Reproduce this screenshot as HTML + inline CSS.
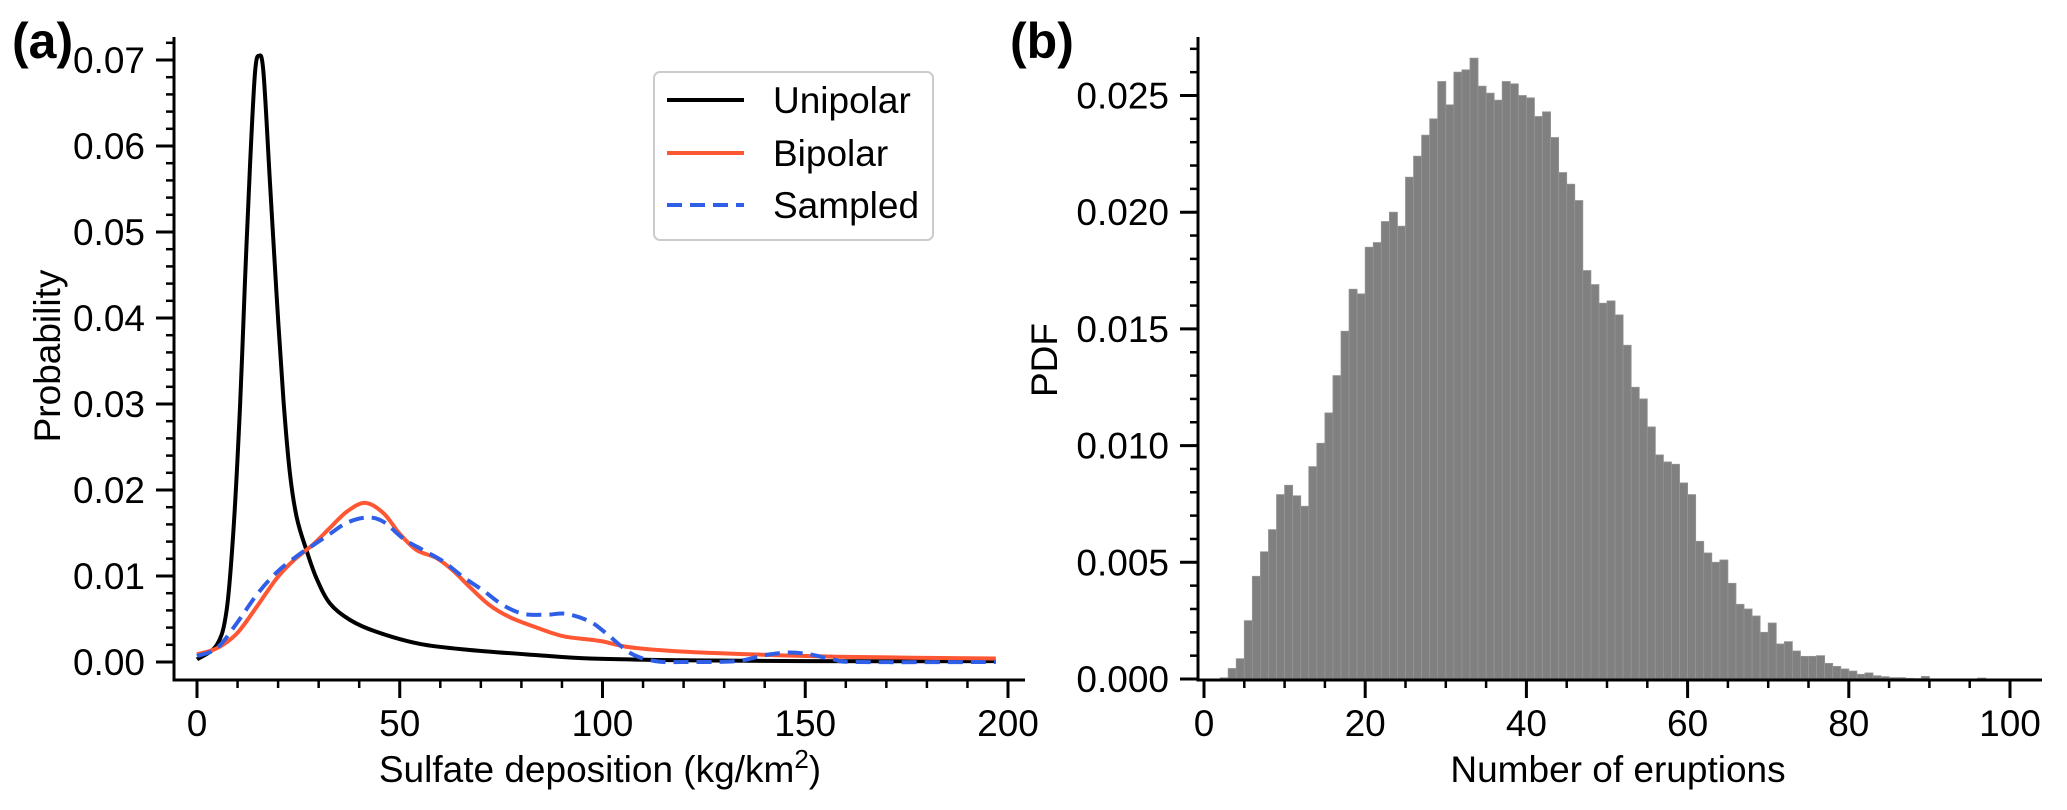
<!DOCTYPE html>
<html><head><meta charset="utf-8"><style>
html,body{margin:0;padding:0;background:#fff;}
svg{display:block;font-family:"Liberation Sans",Arial,sans-serif;}
</style></head><body>
<svg id="fig" width="2067" height="810" viewBox="0 0 2067 810" xmlns="http://www.w3.org/2000/svg">
<g id="pa"></g>
<g id="pb"></g>
</svg>
<script>
// ---------- Panel (a) data ----------
const uniX = [0,4.9,7.3,9,10.6,11.8,13.1,14.3,15.3,16.4,18,19.6,21.3,22.9,24.6,27,29.5,32.8,37.7,44.3,55,67.3,83.8,96.9,120,150,197];
const uniY = [0.0003,0.002,0.006,0.0154,0.0296,0.0439,0.058,0.0685,0.0705,0.0685,0.0557,0.0429,0.0306,0.022,0.0168,0.013,0.0097,0.0068,0.0049,0.0035,0.0021,0.0014,0.0008,0.0004,0.0002,0.0001,0.0001];
const bipX = [0,4.9,9.8,14.7,19.6,23.8,28.7,32.8,37,41.5,46,50,54.2,59,63.2,67.3,72.2,77.2,83.8,90.3,96.9,100,107,120,136,160,197];
const bipY = [0.0009,0.0016,0.0033,0.0064,0.0097,0.0118,0.0137,0.0156,0.0175,0.0185,0.0173,0.0149,0.013,0.0121,0.0106,0.0087,0.0066,0.0052,0.004,0.003,0.0026,0.0024,0.0017,0.0012,0.0009,0.0006,0.0004];
const samX = [0,4.9,9.8,14.7,19.6,24.6,28.7,32.8,37,41.9,46,51,55.8,60.7,65.6,70.6,75.5,80.5,86.2,91.1,96.9,101,107,113,120,133,140,146,151,157,163,197];
const samY = [0.0007,0.0016,0.0045,0.0078,0.0104,0.0123,0.0136,0.0149,0.0162,0.0168,0.0163,0.0143,0.013,0.0117,0.0099,0.0083,0.0066,0.0056,0.0055,0.0056,0.0047,0.0033,0.001,0.0001,0,0.0001,0.0008,0.0011,0.0009,0.0003,0,0];
const aXTicks = [0,50,100,150,200];
const aYTicks = [0,0.01,0.02,0.03,0.04,0.05,0.06,0.07];
const aYLabels = ["0.00","0.01","0.02","0.03","0.04","0.05","0.06","0.07"];
// ---------- Panel (b) data ----------
const binStart = 2;
const hist = [0.00005,0.00045,0.00087,0.0025,0.0044,0.00545,0.0064,0.0079,0.0083,0.00785,0.0074,0.0091,0.0101,0.0114,0.013,0.0149,0.0167,0.0165,0.0185,0.0187,0.0196,0.02,0.0194,0.0215,0.0224,0.0233,0.024,0.0256,0.0246,0.026,0.0261,0.0266,0.0254,0.0251,0.0248,0.0256,0.0255,0.025,0.0249,0.0241,0.0243,0.0232,0.0217,0.0212,0.0205,0.0175,0.0169,0.0161,0.0162,0.0156,0.0143,0.0125,0.012,0.0108,0.0096,0.0093,0.0092,0.0084,0.0079,0.0059,0.0054,0.005,0.0051,0.0041,0.0032,0.003,0.0027,0.002,0.0024,0.0015,0.0016,0.0012,0.00097,0.00097,0.001,0.00067,0.00054,0.00043,0.00034,0.0002,0.00026,0.00014,0.0001,0.00006,0.00006,0.00003,0.00002,0.00011,0,0,0,0,0,0,0.00004];
const bXTicks = [0,20,40,60,80,100];
const bYTicks = [0,0.005,0.01,0.015,0.02,0.025];
const bYLabels = ["0.000","0.005","0.010","0.015","0.020","0.025"];

const NS="http://www.w3.org/2000/svg";
function mk(parent,tag,attrs,text){const e=document.createElementNS(NS,tag);for(const k in attrs)e.setAttribute(k,attrs[k]);if(text!==undefined)e.textContent=text;parent.appendChild(e);return e;}

// axis functions
const ax=v=>197+v*4.055, ay=v=>662-v*8600;
const bx=v=>1204+v*8.06, by=v=>679-v*23340;

function smoothPath(xs,ys,fx,fy){
  const p=xs.map((x,i)=>[fx(x),fy(ys[i])]);
  let d=`M${p[0][0]},${p[0][1]}`;
  for(let i=0;i<p.length-1;i++){
    const p0=p[i-1]||p[i],p1=p[i],p2=p[i+1],p3=p[i+2]||p2;
    const c1=[p1[0]+(p2[0]-p0[0])/6,p1[1]+(p2[1]-p0[1])/6];
    const c2=[p2[0]-(p3[0]-p1[0])/6,p2[1]-(p3[1]-p1[1])/6];
    d+=` C${c1[0]},${c1[1]} ${c2[0]},${c2[1]} ${p2[0]},${p2[1]}`;
  }
  return d;
}

const A=document.getElementById('pa');
// spines
let e;
e=mk(A,'path',{d:'M174,37 L174,680 L1025,680',fill:'none',stroke:'#000','stroke-width':3});


// y ticks
for(let v=0;v<=0.0725;v+=0.002){const y=ay(v);e=mk(A,'line',{x1:166,x2:174,y1:y,y2:y,stroke:'#000','stroke-width':2.5});

}
aYTicks.forEach((v,i)=>{const y=ay(v);mk(A,'line',{x1:156,x2:174,y1:y,y2:y,stroke:'#000','stroke-width':3});
e=mk(A,'text',{x:145,y:y+13,'text-anchor':'end','font-size':37},aYLabels[i]);

});
for(let v=0;v<=200;v+=10){const x=ax(v);mk(A,'line',{x1:x,x2:x,y1:680,y2:688,stroke:'#000','stroke-width':2.5});}
aXTicks.forEach(v=>{const x=ax(v);mk(A,'line',{x1:x,x2:x,y1:680,y2:698,stroke:'#000','stroke-width':3});
e=mk(A,'text',{x:x,y:736,'text-anchor':'middle','font-size':37},String(v));

});
// labels
e=mk(A,'text',{x:600,y:782,'text-anchor':'middle','font-size':37});


e.innerHTML='Sulfate deposition (kg/km<tspan dy="-14" font-size="26">2</tspan><tspan dy="14">)</tspan>';
e=mk(A,'text',{x:0,y:0,'text-anchor':'middle','font-size':37,transform:'translate(60,356) rotate(-90)'},'Probability');


e=mk(A,'text',{x:12,y:58,'font-size':50,'font-weight':'bold'},'(a)');


// series
e=mk(A,'path',{d:smoothPath(uniX,uniY,ax,ay),fill:'none',stroke:'#000','stroke-width':4,'stroke-linejoin':'round'});


e=mk(A,'path',{d:smoothPath(bipX,bipY,ax,ay),fill:'none',stroke:'#ff5733','stroke-width':4,'stroke-linejoin':'round'});


e=mk(A,'path',{d:smoothPath(samX,samY,ax,ay),fill:'none',stroke:'#2f5fe6','stroke-width':4,'stroke-dasharray':'15 8'});


// legend
const L=mk(A,'g',{});


mk(L,'rect',{x:654,y:72,width:279,height:168,rx:6,fill:'#fff',stroke:'#cccccc','stroke-width':2});
[['Unipolar','#000',null,100],['Bipolar','#ff5733',null,153],['Sampled','#2f5fe6','15 8',205]].forEach(r=>{
  const g=mk(L,'g',{});
  
  
  const at={x1:667,x2:744,y1:r[3],y2:r[3],stroke:r[1],'stroke-width':4};if(r[2])at['stroke-dasharray']=r[2];
  mk(g,'line',at);
  mk(g,'text',{x:773,y:r[3]+13,'font-size':37},r[0]);
});

// ---------- Panel (b) ----------
const B=document.getElementById('pb');
const H=mk(B,'g',{});


hist.forEach((v,i)=>{if(v<=0)return;const k=binStart+i;const x0=bx(k),x1=bx(k+1),y=by(v);
  const r=mk(H,'rect',{x:x0,y:y,width:x1-x0,height:679-y,fill:'#808080',stroke:'#949494','stroke-width':0.8});
  
  
});
e=mk(B,'path',{d:'M1198,37 L1198,680 L2042,680',fill:'none',stroke:'#000','stroke-width':3});


for(let v=0;v<=0.0275;v+=0.001){const y=by(v);mk(B,'line',{x1:1190,x2:1198,y1:y,y2:y,stroke:'#000','stroke-width':2.5});}
bYTicks.forEach((v,i)=>{const y=by(v);mk(B,'line',{x1:1180,x2:1198,y1:y,y2:y,stroke:'#000','stroke-width':3});
e=mk(B,'text',{x:1169,y:y+13,'text-anchor':'end','font-size':37},bYLabels[i]);

});
for(let v=0;v<=104;v+=5){const x=bx(v);mk(B,'line',{x1:x,x2:x,y1:680,y2:688,stroke:'#000','stroke-width':2.5});}
bXTicks.forEach(v=>{const x=bx(v);mk(B,'line',{x1:x,x2:x,y1:680,y2:698,stroke:'#000','stroke-width':3});
e=mk(B,'text',{x:x,y:736,'text-anchor':'middle','font-size':37},String(v));

});
e=mk(B,'text',{x:1618,y:782,'text-anchor':'middle','font-size':37},'Number of eruptions');


e=mk(B,'text',{x:0,y:0,'text-anchor':'middle','font-size':37,transform:'translate(1057,360) rotate(-90)'},'PDF');


e=mk(B,'text',{x:1010,y:58,'font-size':50,'font-weight':'bold'},'(b)');


</script>
</body></html>
